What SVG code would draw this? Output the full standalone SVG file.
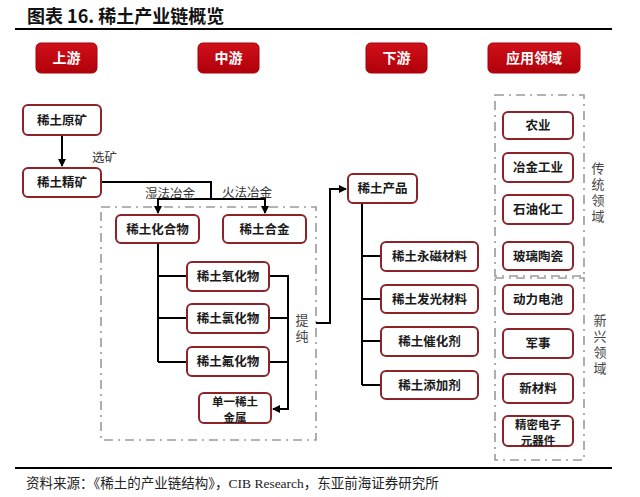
<svg xmlns="http://www.w3.org/2000/svg" width="640" height="497" viewBox="0 0 640 497">
<defs>
<linearGradient id="red" x1="0" y1="0" x2="0" y2="1">
<stop offset="0" stop-color="#D0101A"/><stop offset="1" stop-color="#B0000A"/>
</linearGradient>
<marker id="ah" markerUnits="userSpaceOnUse" markerWidth="8" markerHeight="8" refX="7" refY="4" orient="auto">
<path d="M0,0 L8,4 L0,8 Z" fill="#000"/>
</marker>
<style>
.hd rect{fill:url(#red);stroke:#A8000A;stroke-width:1}
.hd text{fill:#fff;font-family:"Noto Sans CJK SC",sans-serif;font-weight:bold;font-size:14px;text-anchor:middle}
.nd rect{fill:#fff;stroke:#8B2328;stroke-width:2}
.nd text{fill:#1a1a1a;font-family:"Noto Sans CJK SC",sans-serif;font-weight:bold;font-size:12.5px;text-anchor:middle}
.nd text.sm{font-size:11.5px}
.lbl{fill:#333;font-family:"Noto Sans CJK SC",sans-serif;font-size:12.5px}
.vl{fill:#444;font-family:"Noto Sans CJK SC",sans-serif;font-size:13px;writing-mode:vertical-rl;letter-spacing:3px}
.dash{fill:none;stroke:#9a9a9a;stroke-width:1.6;stroke-dasharray:9 5 2 5}
#connectors path{fill:none;stroke:#000;stroke-width:2}
</style>
</defs>
<rect width="640" height="497" fill="#fff"/>
<text x="27" y="23" font-family="Noto Sans CJK SC,sans-serif" font-weight="bold" font-size="18" fill="#111">图表 16. 稀土产业链概览</text>
<line x1="15" y1="29" x2="612" y2="29" stroke="#000" stroke-width="2"/>

<g id="h-up" class="hd"><rect x="36" y="43" width="61" height="30" rx="5"/><text x="66.5" y="63">上游</text></g>
<g id="h-mid" class="hd"><rect x="198" y="43" width="61" height="30" rx="5"/><text x="228.5" y="63">中游</text></g>
<g id="h-down" class="hd"><rect x="366" y="43" width="61" height="30" rx="5"/><text x="396.5" y="63">下游</text></g>
<g id="h-app" class="hd"><rect x="488" y="43" width="92" height="30" rx="5"/><text x="534" y="63">应用领域</text></g>

<rect class="dash" x="101" y="207" width="215" height="233"/>
<rect class="dash" x="495" y="95" width="89" height="181"/>
<rect class="dash" x="495" y="278" width="89" height="182"/>

<g id="connectors">
<path d="M62,135 V166" marker-end="url(#ah)"/>
<path d="M101,182 H211 V199"/>
<path d="M158,199 H265"/>
<path d="M158,198 V213" marker-end="url(#ah)"/>
<path d="M265,198 V213" marker-end="url(#ah)"/>
<path d="M158,243 V362 M158,276 H187 M158,318 H187 M158,362 H187"/>
<path d="M269,276 H288 V409 H273" marker-end="url(#ah)"/>
<path d="M269,318 H288 M269,362 H288"/>
<path d="M316,323 H330 V189 H346" marker-end="url(#ah)"/>
<path d="M362,203 V385 M362,256 H381 M362,299 H381 M362,341 H381 M362,385 H381"/>
</g>

<text class="lbl" x="92" y="162">选矿</text>
<text class="lbl" x="145" y="198">湿法冶金</text>
<text class="lbl" x="222" y="197">火法冶金</text>
<text class="vl" x="302" y="314">提纯</text>

<g id="n-ore" class="nd"><rect x="23" y="105" width="78" height="30" rx="5"/><text x="62" y="124.5">稀土原矿</text></g>
<g id="n-conc" class="nd"><rect x="23" y="168" width="78" height="29" rx="5"/><text x="62" y="187">稀土精矿</text></g>
<g id="n-comp" class="nd"><rect x="116" y="215" width="83" height="28" rx="5"/><text x="157.5" y="233.5">稀土化合物</text></g>
<g id="n-alloy" class="nd"><rect x="223" y="215" width="83" height="28" rx="5"/><text x="264.5" y="233.5">稀土合金</text></g>
<g id="n-oxide" class="nd"><rect x="187" y="262" width="82" height="29" rx="5"/><text x="228" y="281">稀土氧化物</text></g>
<g id="n-chloride" class="nd"><rect x="187" y="304" width="82" height="29" rx="5"/><text x="228" y="323">稀土氯化物</text></g>
<g id="n-fluoride" class="nd"><rect x="187" y="347" width="82" height="29" rx="5"/><text x="228" y="366">稀土氟化物</text></g>
<g id="n-metal" class="nd"><rect x="199" y="393" width="72" height="30" rx="5"/><text class="sm" x="235" y="405.5">单一稀土<tspan x="235" dy="16">金属</tspan></text></g>

<g id="n-product" class="nd"><rect x="348" y="174" width="69" height="29" rx="5"/><text x="382.5" y="193">稀土产品</text></g>
<g id="n-magnet" class="nd"><rect x="381" y="242" width="97" height="29" rx="5"/><text x="429.5" y="261">稀土永磁材料</text></g>
<g id="n-lum" class="nd"><rect x="381" y="285" width="97" height="28" rx="5"/><text x="429.5" y="303.5">稀土发光材料</text></g>
<g id="n-cat" class="nd"><rect x="381" y="327" width="97" height="29" rx="5"/><text x="429.5" y="346">稀土催化剂</text></g>
<g id="n-add" class="nd"><rect x="381" y="371" width="97" height="28" rx="5"/><text x="429.5" y="389.5">稀土添加剂</text></g>

<g id="n-agri" class="nd"><rect x="503" y="112" width="70" height="27" rx="5"/><text x="538" y="130">农业</text></g>
<g id="n-metall" class="nd"><rect x="503" y="153" width="70" height="29" rx="5"/><text x="538" y="172">冶金工业</text></g>
<g id="n-petro" class="nd"><rect x="503" y="195" width="70" height="29" rx="5"/><text x="538" y="214">石油化工</text></g>
<g id="n-glass" class="nd"><rect x="503" y="242" width="70" height="28" rx="5"/><text x="538" y="260.5">玻璃陶瓷</text></g>
<g id="n-battery" class="nd"><rect x="503" y="285" width="70" height="29" rx="5"/><text x="538" y="304">动力电池</text></g>
<g id="n-mil" class="nd"><rect x="503" y="329" width="70" height="29" rx="5"/><text x="538" y="348">军事</text></g>
<g id="n-newmat" class="nd"><rect x="503" y="374" width="70" height="29" rx="5"/><text x="538" y="393">新材料</text></g>
<g id="n-elec" class="nd"><rect x="503" y="416" width="70" height="30" rx="5"/><text class="sm" x="538" y="428.5">精密电子<tspan x="538" dy="16">元器件</tspan></text></g>

<text class="vl" x="598" y="162">传统领域</text>
<text class="vl" x="600" y="314">新兴领域</text>

<line x1="15" y1="468" x2="612" y2="468" stroke="#000" stroke-width="2"/>
<text x="26" y="488" font-family="Liberation Serif,Noto Sans CJK SC,serif" font-size="13.5" fill="#222">资料来源：《稀土的产业链结构》，CIB Research，东亚前海证券研究所</text>
</svg>
